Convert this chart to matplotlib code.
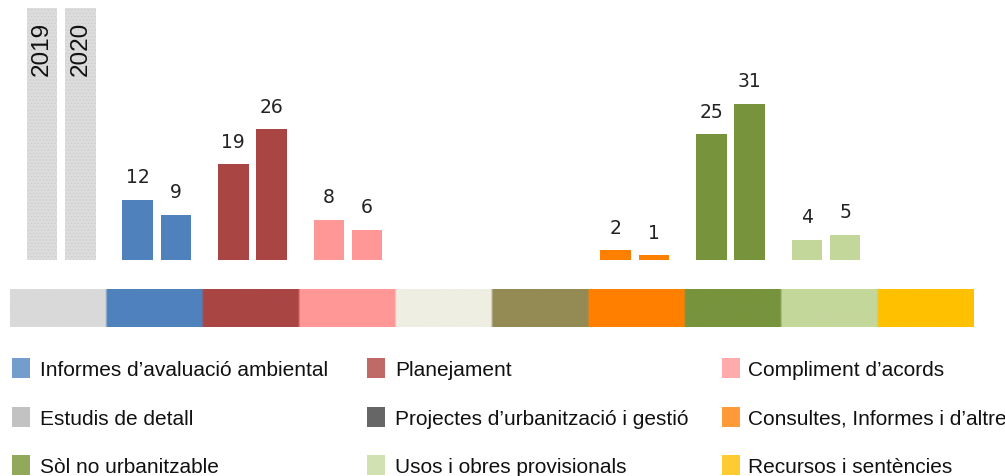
import numpy as np
import matplotlib
matplotlib.use('Agg')
import matplotlib.pyplot as plt
from matplotlib.patches import Rectangle
from matplotlib.colors import to_rgb

W, H = 1005, 477

# category strip (first column holds the year headers)
strip_colors = ['#d9d9d9', '#4f81bd', '#a94543', '#ff9797', '#eeeee2',
                '#948a54', '#ff8000', '#77933c', '#c4d79b', '#ffc000']

# bars per category column (nan = no bar)
values_2019 = [np.nan, 12, 19, 8, np.nan, np.nan, 2, 25, 4, np.nan]
values_2020 = [np.nan, 9, 26, 6, np.nan, np.nan, 1, 31, 5, np.nan]
bar_colors = ['#d9d9d9', '#4f81bd', '#a94543', '#ff9797', '#eeeee2',
              '#948a54', '#ff8000', '#77933c', '#c4d79b', '#ffc000']

years = ['2019', '2020']
year_header_height = 50

legend_labels = ['Informes d’avaluació ambiental', 'Planejament', 'Compliment d’acords',
                 'Estudis de detall', 'Projectes d’urbanització i gestió', 'Consultes, Informes i d’altre',
                 'Sòl no urbanitzable', 'Usos i obres provisionals', 'Recursos i sentències']
legend_colors = ['#729dcd', '#bf6a66', '#ffabab',
                 '#c2c2c2', '#666666', '#ff9a38',
                 '#92a95b', '#d2e1b1', '#ffcb33']


def fx(px):
    return px / W


def fy(py):
    # py measured from the top of the image
    return 1 - py / H


fig = plt.figure(figsize=(W / 100, H / 100), dpi=100)

# bars
ax = fig.add_axes([fx(10), fy(261), fx(956), 261 / H])
ax.set_xlim(0, 10)
ax.set_ylim(0, 261 / 5.04)
ax.axis('off')

n = len(strip_colors)
x = np.arange(n)
w = 0.32
x19 = x + 0.335
x20 = x + 0.735

# year header bars
plt.rcParams['hatch.linewidth'] = 0.4
for xi, yr in zip([x19[0], x20[0]], years):
    ax.bar(xi, year_header_height, width=w, color='#dcdcdc', edgecolor='#c9c9c9',
           hatch='.....', linewidth=0)
    ax.text(xi, (261 - 22) / 5.04, yr, rotation=90, ha='center', va='top',
            fontsize=17.5, color='#111111', family=['Liberation Sans', 'DejaVu Sans'])

for xs, vals in [(x19, values_2019), (x20, values_2020)]:
    for i in range(1, n):
        v = vals[i]
        if np.isnan(v):
            continue
        ax.bar(xs[i], v, width=w, color=bar_colors[i], linewidth=0)
        ax.annotate(str(v), (xs[i], v), xytext=(0, 16.5), textcoords='offset points',
                    ha='center', va='center', fontsize=13.5, color='#222222')

# colour strip
sax = fig.add_axes([fx(10), fy(328), fx(963), 38 / H])
rep = 40
rgb = np.array([to_rgb(c) for c in strip_colors])
strip = np.repeat(rgb, rep, axis=0)[np.newaxis, :, :]
sax.imshow(strip, aspect='auto', extent=(0, n, 0, 1), interpolation='bilinear')
sax.axis('off')

# legend, 3 columns x 3 rows
col_marker = [12, 367, 722]
col_text = [40, 395, 748]
row_center = [369, 418, 466]
for k, (lab, c) in enumerate(zip(legend_labels, legend_colors)):
    r, cidx = divmod(k, 3)
    fig.add_artist(Rectangle((fx(col_marker[cidx]), fy(row_center[r] + 10)), fx(18), 20 / H,
                             transform=fig.transFigure, color=c, linewidth=0))
    fig.text(fx(col_text[cidx]), fy(row_center[r] + 7), lab, ha='left', va='baseline',
             fontsize=15, color='#111111',
             family=['Liberation Sans', 'DejaVu Sans'])

fig.savefig('out.png', dpi=100)
